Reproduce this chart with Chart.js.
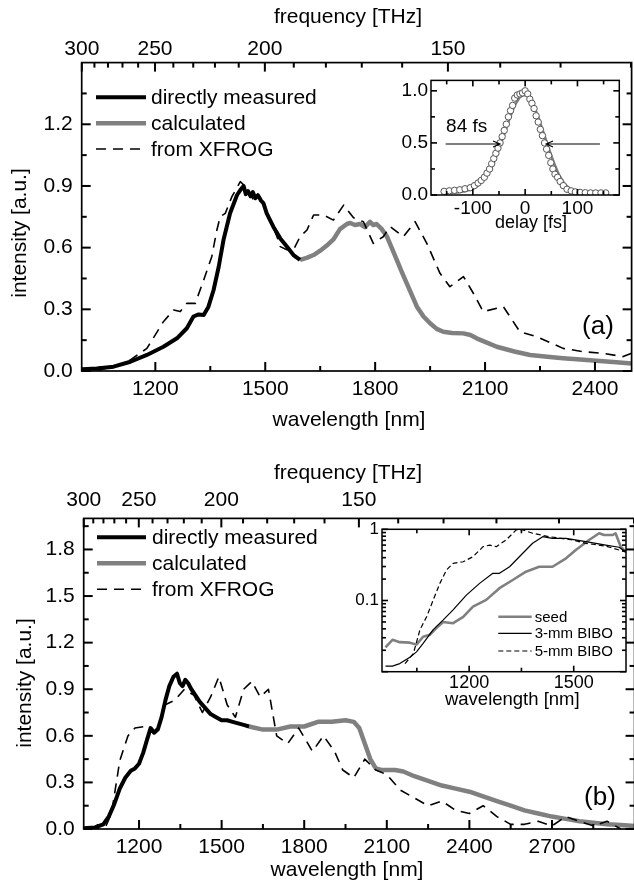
<!DOCTYPE html>
<html>
<head>
<meta charset="utf-8">
<script src="https://cdn.jsdelivr.net/npm/chart.js@4.4.1/dist/chart.umd.min.js"></script>
<style>
  html, body { margin: 0; padding: 0; background: #fff; overflow: hidden; width: 634px; height: 890px; }
  canvas { position: absolute; }
</style>
</head>
<body>
<canvas id="mainA" width="634" height="445" style="left:0;top:0"></canvas>
<canvas id="mainB" width="640" height="445" style="left:0;top:445px"></canvas>
<canvas id="insetA" width="239" height="175" style="left:395px;top:66px"></canvas>
<canvas id="insetB" width="289" height="205" style="left:345px;top:515px"></canvas>
<script>
// nm * THz
const C_LIGHT = 299792.458;

// ---- panel (a) ----
const aMeasWl = [1000, 1040, 1086, 1132, 1177, 1222, 1259, 1286, 1304, 1318, 1332, 1345, 1359, 1373, 1386, 1404, 1423, 1432, 1441, 1447, 1453, 1460, 1466, 1473, 1480, 1488, 1495, 1504, 1522, 1541, 1559, 1577, 1595];
const aMeasInt = [0.008, 0.012, 0.021, 0.045, 0.078, 0.118, 0.159, 0.208, 0.265, 0.275, 0.272, 0.313, 0.394, 0.507, 0.637, 0.767, 0.856, 0.880, 0.900, 0.860, 0.875, 0.850, 0.870, 0.840, 0.855, 0.830, 0.816, 0.767, 0.702, 0.645, 0.605, 0.564, 0.540];
const aCalcWl = [1595, 1613, 1632, 1650, 1668, 1686, 1704, 1723, 1732, 1745, 1759, 1772, 1786, 1795, 1804, 1818, 1832, 1845, 1859, 1872, 1886, 1900, 1914, 1932, 1950, 1968, 1986, 2010, 2041, 2060, 2077, 2105, 2132, 2180, 2223, 2270, 2313, 2360, 2404, 2450, 2500];
const aCalcInt = [0.540, 0.550, 0.564, 0.585, 0.610, 0.640, 0.690, 0.715, 0.720, 0.710, 0.715, 0.700, 0.725, 0.710, 0.715, 0.690, 0.655, 0.600, 0.540, 0.485, 0.427, 0.370, 0.313, 0.265, 0.232, 0.205, 0.191, 0.185, 0.183, 0.175, 0.159, 0.138, 0.118, 0.095, 0.078, 0.069, 0.062, 0.056, 0.050, 0.044, 0.037];
const aXfrWl = [1040, 1090, 1132, 1177, 1222, 1250, 1268, 1286, 1309, 1332, 1354, 1368, 1377, 1391, 1409, 1432, 1450, 1468, 1495, 1514, 1532, 1541, 1559, 1577, 1595, 1614, 1632, 1659, 1686, 1714, 1741, 1768, 1795, 1822, 1841, 1877, 1909, 1941, 1977, 2004, 2041, 2068, 2095, 2150, 2195, 2241, 2313, 2368, 2422, 2477, 2500];
const aXfrInt = [0.005, 0.020, 0.054, 0.110, 0.240, 0.297, 0.289, 0.329, 0.329, 0.443, 0.556, 0.686, 0.750, 0.767, 0.848, 0.921, 0.889, 0.832, 0.823, 0.734, 0.653, 0.605, 0.590, 0.589, 0.653, 0.686, 0.759, 0.759, 0.734, 0.807, 0.745, 0.726, 0.621, 0.653, 0.702, 0.653, 0.726, 0.621, 0.475, 0.410, 0.459, 0.378, 0.289, 0.313, 0.191, 0.167, 0.110, 0.094, 0.086, 0.070, 0.086];

const aWlMajor = [1200, 1500, 1800, 2100, 2400];
const aWlMinor = [1050, 1350, 1650, 1950, 2250];
const aIntMajor = [0, 0.3, 0.6, 0.9, 1.2];
const aIntMinor = [0.15, 0.45, 0.75, 1.05, 1.35];
const aFreqMajor = [300, 250, 200, 150];
const aFreqMinor = [290, 280, 270, 260, 240, 230, 220, 210, 190, 180, 170, 160, 140, 130, 120];

// inset (a): cross-correlation
const corrDelay = [-155, -145, -135, -125, -115, -105, -97, -90, -84, -78, -73, -68, -64, -60, -56, -52, -48, -44, -40, -36, -32, -28, -24, -20, -15, -10, -5, 0, 5, 9, 13, 17, 21, 25, 29, 33, 37, 41, 45, 49, 53, 57, 62, 67, 73, 80, 88, 96, 105, 115, 125, 135, 145, 154];
const corrMeas = [0.035, 0.040, 0.045, 0.050, 0.060, 0.070, 0.090, 0.115, 0.140, 0.170, 0.210, 0.250, 0.300, 0.350, 0.400, 0.450, 0.500, 0.560, 0.620, 0.680, 0.750, 0.810, 0.860, 0.930, 0.960, 0.970, 0.980, 1.000, 0.970, 0.920, 0.880, 0.830, 0.760, 0.700, 0.630, 0.570, 0.500, 0.440, 0.380, 0.310, 0.250, 0.200, 0.170, 0.130, 0.090, 0.055, 0.040, 0.030, 0.025, 0.022, 0.020, 0.020, 0.020, 0.020];
const fitDelay = [-155, -130, -115, -100, -90, -80, -70, -60, -50, -40, -30, -20, -10, -3, 5, 15, 25, 35, 45, 55, 65, 75, 85, 95, 110, 130, 150];
const fitVal = [0.020, 0.025, 0.035, 0.060, 0.090, 0.140, 0.210, 0.310, 0.440, 0.580, 0.730, 0.860, 0.940, 0.960, 0.950, 0.880, 0.750, 0.600, 0.450, 0.310, 0.190, 0.110, 0.060, 0.035, 0.022, 0.020, 0.020];
const retrDelay = [-58, -48, -38, -28, -18, -8, 0, 8, 18, 28, 38, 48, 58];
const retrVal = [0.34, 0.49, 0.65, 0.80, 0.91, 0.97, 0.97, 0.94, 0.84, 0.69, 0.51, 0.33, 0.20];
const cMajor = [-100, 0, 100];
const cMinor = [-150, -50, 50, 150];
const cValMajor = [0, 0.5, 1.0];
const cValMinor = [0.25, 0.75];
const fwhmLeft = [[-152, 0.49], [-48, 0.49]];
const fwhmRight = [[143, 0.49], [40, 0.49]];

// ---- panel (b) ----
const bMeasWl = [1000, 1040, 1070, 1090, 1110, 1130, 1150, 1170, 1185, 1200, 1215, 1230, 1242, 1255, 1268, 1282, 1296, 1310, 1325, 1338, 1348, 1358, 1368, 1378, 1390, 1405, 1420, 1440, 1460, 1480, 1500, 1520, 1540, 1560, 1580, 1600];
const bMeasInt = [0.005, 0.010, 0.030, 0.080, 0.160, 0.260, 0.330, 0.375, 0.390, 0.420, 0.490, 0.580, 0.650, 0.620, 0.640, 0.720, 0.830, 0.920, 0.980, 1.000, 0.940, 0.920, 0.960, 0.940, 0.900, 0.860, 0.820, 0.780, 0.740, 0.720, 0.700, 0.700, 0.690, 0.680, 0.670, 0.660];
const bCalcWl = [1600, 1650, 1700, 1750, 1800, 1850, 1900, 1950, 1980, 2000, 2020, 2040, 2060, 2080, 2100, 2130, 2160, 2200, 2250, 2300, 2350, 2400, 2450, 2500, 2550, 2600, 2650, 2700, 2750, 2800, 2850, 2900, 2950, 3000];
const bCalcInt = [0.660, 0.640, 0.640, 0.660, 0.660, 0.690, 0.690, 0.700, 0.690, 0.650, 0.550, 0.450, 0.390, 0.380, 0.380, 0.380, 0.370, 0.340, 0.310, 0.280, 0.260, 0.240, 0.210, 0.180, 0.150, 0.120, 0.100, 0.080, 0.065, 0.050, 0.040, 0.030, 0.025, 0.020];
const bXfrWl = [1080, 1100, 1130, 1160, 1185, 1220, 1250, 1270, 1295, 1330, 1365, 1400, 1430, 1460, 1490, 1520, 1550, 1580, 1610, 1640, 1670, 1700, 1740, 1780, 1830, 1870, 1910, 1940, 1980, 2020, 2060, 2100, 2150, 2200, 2250, 2300, 2350, 2400, 2450, 2500, 2550, 2600, 2650, 2700, 2750, 2800, 2850, 2900, 2950];
const bXfrInt = [0.02, 0.10, 0.44, 0.60, 0.65, 0.66, 0.62, 0.66, 0.80, 0.83, 0.90, 0.86, 0.75, 0.85, 0.98, 0.80, 0.72, 0.90, 0.95, 0.85, 0.90, 0.60, 0.55, 0.65, 0.50, 0.60, 0.50, 0.38, 0.33, 0.45, 0.38, 0.35, 0.25, 0.20, 0.15, 0.18, 0.12, 0.10, 0.15, 0.08, 0.03, 0.03, 0.05, 0.02, 0.08, 0.05, 0.02, 0.05, 0.00];

const bWlMajor = [1200, 1500, 1800, 2100, 2400, 2700];
const bWlMinor = [1050, 1350, 1650, 1950, 2250, 2550, 2850];
const bIntMajor = [0, 0.3, 0.6, 0.9, 1.2, 1.5, 1.8];
const bIntMinor = [0.15, 0.45, 0.75, 1.05, 1.35, 1.65, 1.95];
const bFreqMajor = [300, 250, 200, 150];
const bFreqMinor = [290, 280, 270, 260, 240, 230, 220, 210, 190, 180, 170, 160, 140, 130, 120, 110, 100];

// inset (b): spectra, log scale
const seedWl = [960, 980, 1001, 1030, 1049, 1068, 1087, 1106, 1125, 1154, 1183, 1211, 1249, 1287, 1325, 1363, 1401, 1439, 1478, 1506, 1544, 1573, 1587, 1611, 1620, 1635, 1650];
const seedVal = [0.022, 0.028, 0.026, 0.0256, 0.024, 0.031, 0.033, 0.041, 0.050, 0.048, 0.059, 0.082, 0.102, 0.149, 0.194, 0.254, 0.298, 0.298, 0.391, 0.512, 0.708, 0.879, 0.830, 0.830, 0.879, 0.570, 0.480];
const bibo3Wl = [960, 980, 1001, 1030, 1049, 1068, 1097, 1125, 1154, 1192, 1230, 1268, 1287, 1316, 1344, 1382, 1411, 1439, 1478, 1535, 1592, 1630, 1650];
const bibo3Val = [0.012, 0.012, 0.013, 0.016, 0.019, 0.025, 0.039, 0.053, 0.074, 0.119, 0.174, 0.241, 0.241, 0.298, 0.412, 0.636, 0.787, 0.747, 0.747, 0.670, 0.600, 0.560, 0.480];
const bibo5Wl = [1016, 1040, 1059, 1078, 1097, 1116, 1135, 1154, 1183, 1211, 1240, 1259, 1278, 1306, 1335, 1354, 1382, 1430, 1497, 1535, 1592, 1650];
const bibo5Val = [0.013, 0.018, 0.039, 0.059, 0.102, 0.174, 0.268, 0.333, 0.350, 0.412, 0.570, 0.600, 0.570, 0.708, 0.980, 0.980, 0.879, 0.787, 0.708, 0.636, 0.580, 0.480];
const sWlMajor = [1200, 1500];
const sWlMinor = [1050, 1350];
const sLogMajor = [0.01, 0.1, 1];
const sLogMinor = [0.02, 0.03, 0.04, 0.05, 0.06, 0.07, 0.08, 0.09, 0.2, 0.3, 0.4, 0.5, 0.6, 0.7, 0.8, 0.9];

const FONT = "'Liberation Sans', Arial, Helvetica, sans-serif";
const GRAY = '#808080';

const pts = (xs, ys) => xs.map((x, i) => ({ x, y: ys[i] }));
const same = v => v;

function tickSetter(major, minor, conv) {
  return (scale) => {
    const all = major.map(v => [v, true]).concat(minor.map(v => [v, false]));
    scale.ticks = all
      .map(([v, m]) => ({ value: conv(v), isMajor: m, raw: v }))
      .sort((p, q) => p.value - q.value);
  };
}

function axis(pos, min, max, major, minor, fmt, size, opt = {}) {
  const conv = opt.toValue || same;
  return {
    type: opt.type || 'linear',
    position: pos,
    min, max,
    grid: { display: false, drawTicks: false, tickLength: 0 },
    border: { display: false },
    afterBuildTicks: tickSetter(major, minor, conv),
    afterFit: (s) => {
      if (pos === 'left' || pos === 'right') s.width = size; else s.height = size;
    },
    ticks: {
      autoSkip: false, maxRotation: 0, minRotation: 0,
      padding: opt.pad !== undefined ? opt.pad : 6,
      color: '#000',
      font: { family: FONT, size: opt.fontSize || 21 },
      callback: (value, i, ticks) => (ticks[i] && ticks[i].isMajor ? fmt(ticks[i].raw) : ''),
    },
  };
}

// frame, inward tick marks, legend, titles, arrows
function makeDecor(cfg) {
  return {
    id: 'decor' + cfg.key,
    beforeDatasetsDraw(chart) {
      if (!cfg.fill) return;
      const a = chart.chartArea, ctx = chart.ctx;
      ctx.save();
      ctx.fillStyle = '#fff';
      ctx.fillRect(a.left, a.top, a.width, a.height);
      ctx.restore();
    },
    afterDraw(chart) {
      const ctx = chart.ctx, a = chart.chartArea;
      const L = cfg.longTick, S = cfg.shortTick, w = cfg.frameWidth, tw = cfg.tickWidth;
      ctx.save();
      ctx.setLineDash([]);
      ctx.fillStyle = '#000';
      cfg.marks.forEach((m) => {
        const s = chart.scales[m.scale];
        const conv = m.conv || same;
        const list = m.major.map(v => [v, L]).concat(m.minor.map(v => [v, S]));
        list.forEach(([v, len]) => {
          const p = s.getPixelForValue(conv(v));
          m.sides.forEach((side) => {
            if (side === 'bottom') ctx.fillRect(p - tw / 2, a.bottom - len, tw, len);
            if (side === 'top') ctx.fillRect(p - tw / 2, a.top, tw, len);
            if (side === 'left') ctx.fillRect(a.left, p - tw / 2, len, tw);
            if (side === 'right') ctx.fillRect(a.right - len, p - tw / 2, len, tw);
          });
        });
      });
      ctx.strokeStyle = '#000';
      ctx.lineWidth = w;
      ctx.strokeRect(a.left, a.top, a.width, a.height);

      (cfg.arrows || []).forEach((ar) => {
        const xs = chart.scales.x, ys = chart.scales.y;
        const x0 = xs.getPixelForValue(ar[0][0]), y0 = ys.getPixelForValue(ar[0][1]);
        const x1 = xs.getPixelForValue(ar[1][0]), y1 = ys.getPixelForValue(ar[1][1]);
        const dir = Math.sign(x1 - x0);
        ctx.lineWidth = 1.1;
        ctx.beginPath();
        ctx.moveTo(x0, y0); ctx.lineTo(x1, y1);
        ctx.moveTo(x1 - dir * 7, y1 - 3); ctx.lineTo(x1, y1); ctx.lineTo(x1 - dir * 7, y1 + 3);
        ctx.stroke();
      });

      (cfg.legend || []).forEach((e) => {
        const ds = chart.data.datasets[e.ds];
        ctx.save();
        ctx.strokeStyle = ds.borderColor;
        ctx.lineWidth = ds.borderWidth;
        ctx.setLineDash(ds.borderDash || []);
        ctx.beginPath(); ctx.moveTo(e.x1, e.y); ctx.lineTo(e.x2, e.y); ctx.stroke();
        ctx.restore();
        ctx.fillStyle = '#000';
        ctx.font = e.font;
        ctx.textAlign = 'left';
        ctx.textBaseline = 'middle';
        ctx.fillText(ds.label, e.x2 + e.gap, e.y + 1);
      });

      (cfg.texts || []).forEach((t) => {
        ctx.save();
        ctx.translate(t.x, t.y);
        if (t.rot) ctx.rotate(t.rot);
        ctx.font = t.font;
        ctx.fillStyle = '#000';
        ctx.textAlign = 'center';
        ctx.textBaseline = 'middle';
        ctx.fillText(t.text, 0, 0);
        ctx.restore();
      });
      ctx.restore();
    },
  };
}

const lineDs = (label, data, color, width, dash) => ({
  label, data, borderColor: color, borderWidth: width, borderDash: dash || [],
  pointRadius: 0, tension: 0, fill: false, borderJoinStyle: 'round', borderCapStyle: 'butt',
});

const f1 = v => v.toFixed(1);
const fInt = v => String(v);
const toWl = f => C_LIGHT / f;
const baseOpts = { responsive: false, animation: false, events: [] };
const noLegend = { legend: { display: false }, tooltip: { enabled: false } };

// ---- main (a) ----
new Chart(document.getElementById('mainA'), {
  type: 'line',
  data: {
    datasets: [
      lineDs('from XFROG', pts(aXfrWl, aXfrInt), '#000', 1.6, [10, 7]),
      lineDs('directly measured', pts(aMeasWl, aMeasInt), '#000', 4),
      lineDs('calculated', pts(aCalcWl, aCalcInt), GRAY, 4.5),
    ],
  },
  options: {
    ...baseOpts,
    layout: { padding: { left: 0, right: 2.4, top: 0, bottom: 0 } },
    plugins: noLegend,
    scales: {
      x: axis('bottom', 999, 2500, aWlMajor, aWlMinor, fInt, 74, { pad: 6 }),
      xTop: axis('top', 999, 2500, aFreqMajor, aFreqMinor, fInt, 62.6, { pad: 1, toValue: toWl }),
      y: axis('left', 0, 1.5, aIntMajor, aIntMinor, f1, 81.7, { pad: 9 }),
    },
  },
  plugins: [makeDecor({
    key: 'A', longTick: 9, shortTick: 5, frameWidth: 1.7, tickWidth: 2,
    marks: [
      { scale: 'x', major: aWlMajor, minor: aWlMinor, sides: ['bottom'] },
      { scale: 'xTop', major: aFreqMajor, minor: aFreqMinor, conv: toWl, sides: ['top'] },
      { scale: 'y', major: aIntMajor, minor: aIntMinor, sides: ['left', 'right'] },
    ],
    legend: [
      { ds: 1, x1: 96, x2: 146, y: 97.3, gap: 5, font: `21px ${FONT}` },
      { ds: 2, x1: 96, x2: 146, y: 123.3, gap: 5, font: `21px ${FONT}` },
      { ds: 0, x1: 96, x2: 146, y: 149, gap: 5, font: `21px ${FONT}` },
    ],
    texts: [
      { text: 'frequency [THz]', x: 348, y: 17, font: `21px ${FONT}` },
      { text: 'wavelength [nm]', x: 349, y: 420, font: `21px ${FONT}` },
      { text: 'intensity [a.u.]', x: 20, y: 233, rot: -Math.PI / 2, font: `21px ${FONT}` },
      { text: '(a)', x: 598, y: 327, font: `26px ${FONT}` },
    ],
  })],
});

// ---- main (b) ----
new Chart(document.getElementById('mainB'), {
  type: 'line',
  data: {
    datasets: [
      lineDs('from XFROG', pts(bXfrWl, bXfrInt), '#000', 1.6, [10, 7]),
      lineDs('directly measured', pts(bMeasWl, bMeasInt), '#000', 4),
      lineDs('calculated', pts(bCalcWl, bCalcInt), GRAY, 4.5),
    ],
  },
  options: {
    ...baseOpts,
    layout: { padding: { left: 0, right: 4, top: 0, bottom: 0 } },
    plugins: noLegend,
    scales: {
      x: axis('bottom', 999, 3000, bWlMajor, bWlMinor, fInt, 61, { pad: 6 }),
      xTop: axis('top', 999, 3000, bFreqMajor, bFreqMinor, fInt, 73.4, { pad: 6, toValue: toWl }),
      y: axis('left', 0, 2.0, bIntMajor, bIntMinor, f1, 83.7, { pad: 9 }),
    },
  },
  plugins: [makeDecor({
    key: 'B', longTick: 9, shortTick: 5, frameWidth: 1.7, tickWidth: 2,
    marks: [
      { scale: 'x', major: bWlMajor, minor: bWlMinor, sides: ['bottom'] },
      { scale: 'xTop', major: bFreqMajor, minor: bFreqMinor, conv: toWl, sides: ['top'] },
      { scale: 'y', major: bIntMajor, minor: bIntMinor, sides: ['left', 'right'] },
    ],
    legend: [
      { ds: 1, x1: 97, x2: 146, y: 92.3, gap: 6, font: `21px ${FONT}` },
      { ds: 2, x1: 97, x2: 146, y: 118.3, gap: 6, font: `21px ${FONT}` },
      { ds: 0, x1: 97, x2: 146, y: 144.3, gap: 6, font: `21px ${FONT}` },
    ],
    texts: [
      { text: 'frequency [THz]', x: 348, y: 28, font: `21px ${FONT}` },
      { text: 'wavelength [nm]', x: 347, y: 425, font: `21px ${FONT}` },
      { text: 'intensity [a.u.]', x: 25, y: 238, rot: -Math.PI / 2, font: `21px ${FONT}` },
      { text: '(b)', x: 600, y: 353, font: `26px ${FONT}` },
    ],
  })],
});

// ---- inset (a) ----
new Chart(document.getElementById('insetA'), {
  type: 'line',
  data: {
    datasets: [
      {
        label: 'measured', data: pts(corrDelay, corrMeas), showLine: false,
        pointRadius: 3.2, pointBorderWidth: 1, pointBorderColor: '#555', pointBackgroundColor: '#fff',
      },
      lineDs('retrieved', pts(retrDelay, retrVal), '#222', 1, [4, 3]),
      lineDs('fit', pts(fitDelay, fitVal), GRAY, 2.5),
    ],
  },
  options: {
    ...baseOpts,
    layout: { padding: { left: 0, right: 14.7, top: 8, bottom: 0 } },
    plugins: noLegend,
    scales: {
      x: axis('bottom', -180, 180, cMajor, cMinor, fInt, 46, { pad: 2, fontSize: 19 }),
      y: axis('left', 0, 1.1, cValMajor, cValMinor, f1, 36, { pad: 3, fontSize: 19 }),
    },
  },
  plugins: [makeDecor({
    key: 'IA', fill: true, longTick: 6, shortTick: 4, frameWidth: 1.5, tickWidth: 1.6,
    marks: [
      { scale: 'x', major: cMajor, minor: cMinor, sides: ['bottom', 'top'] },
      { scale: 'y', major: cValMajor, minor: cValMinor, sides: ['left', 'right'] },
    ],
    arrows: [fwhmLeft, fwhmRight],
    texts: [
      { text: '84 fs', x: 71.7, y: 60.7, font: `19px ${FONT}` },
      { text: 'delay [fs]', x: 136, y: 157.3, font: `18px ${FONT}` },
    ],
  })],
});

// ---- inset (b) ----
new Chart(document.getElementById('insetB'), {
  type: 'line',
  data: {
    datasets: [
      lineDs('5-mm BIBO', pts(bibo5Wl, bibo5Val), '#000', 1.2, [5, 3]),
      lineDs('3-mm BIBO', pts(bibo3Wl, bibo3Val), '#000', 1.2),
      lineDs('seed', pts(seedWl, seedVal), GRAY, 2.6),
    ],
  },
  options: {
    ...baseOpts,
    layout: { padding: { left: 0, right: 8, top: 14.3, bottom: 0 } },
    plugins: noLegend,
    scales: {
      x: axis('bottom', 950, 1650, sWlMajor, sWlMinor, fInt, 48.3, { pad: 1, fontSize: 18 }),
      y: axis('left', 0.01, 1, sLogMajor, sLogMinor, v => (v === 1 ? '1' : v === 0.1 ? '0.1' : ''), 37,
        { pad: 3, fontSize: 17, type: 'logarithmic' }),
    },
  },
  plugins: [makeDecor({
    key: 'IB', fill: true, longTick: 6, shortTick: 4, frameWidth: 1.5, tickWidth: 1.6,
    marks: [
      { scale: 'x', major: sWlMajor, minor: sWlMinor, sides: ['bottom', 'top'] },
      { scale: 'y', major: sLogMajor, minor: sLogMinor, sides: ['left', 'right'] },
    ],
    legend: [
      { ds: 2, x1: 153.3, x2: 186.7, y: 101.7, gap: 3, font: `15px ${FONT}` },
      { ds: 1, x1: 153.3, x2: 186.7, y: 118.3, gap: 3, font: `15px ${FONT}` },
      { ds: 0, x1: 153.3, x2: 186.7, y: 136, gap: 3, font: `15px ${FONT}` },
    ],
    texts: [
      { text: 'wavelength [nm]', x: 167.3, y: 185, font: `18.5px ${FONT}` },
    ],
  })],
});
</script>
</body>
</html>
